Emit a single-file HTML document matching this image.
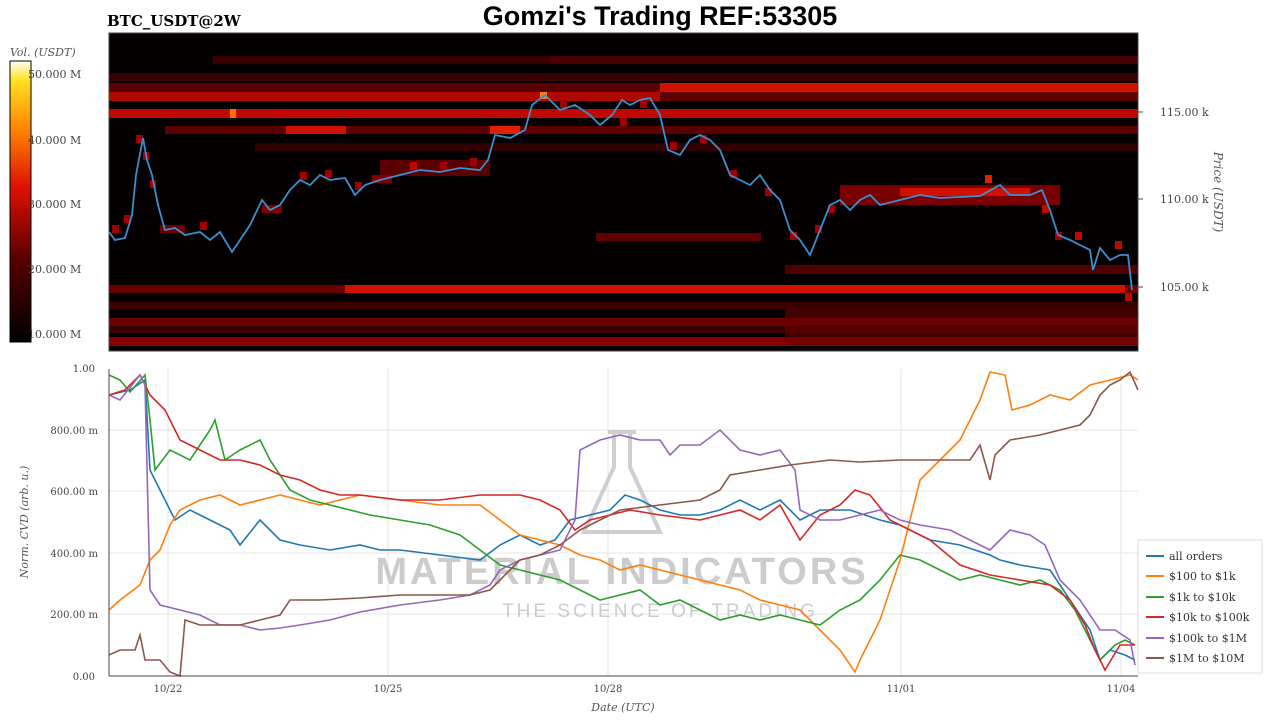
<!DOCTYPE html>
<html><head><meta charset="utf-8"><style>
body{margin:0;background:#fff;width:1280px;height:720px;overflow:hidden}
.s{font-family:"DejaVu Serif","Liberation Serif",serif}
.wm{font-family:"Liberation Sans",sans-serif;font-weight:bold}
</style></head><body>
<svg width="1280" height="720" viewBox="0 0 1280 720" xmlns="http://www.w3.org/2000/svg">
<defs>
<linearGradient id="cb" x1="0" y1="1" x2="0" y2="0">
<stop offset="0" stop-color="#000"/><stop offset="0.3" stop-color="#5a0000"/><stop offset="0.55" stop-color="#e01000"/><stop offset="0.75" stop-color="#ff8000"/><stop offset="0.93" stop-color="#ffe020"/><stop offset="1" stop-color="#fffff0"/>
</linearGradient>
</defs>
<text x="660" y="25" text-anchor="middle" font-size="27" font-weight="bold" style="font-family:'Liberation Sans',sans-serif">Gomzi's Trading REF:53305</text>
<text class="s" x="107" y="26" font-size="15" font-weight="bold">BTC_USDT@2W</text>
<text class="s" x="10" y="56" font-size="11" font-style="italic" fill="#555">Vol. (USDT)</text>
<rect x="10" y="61" width="21" height="281" fill="url(#cb)" stroke="#000" stroke-width="1"/>
<g class="s" font-size="11" fill="#444">
<text x="28" y="78">50.000 M</text><text x="28" y="144">40.000 M</text><text x="28" y="208">30.000 M</text><text x="28" y="273">20.000 M</text><text x="28" y="338">10.000 M</text></g>
<rect x="109" y="33" width="1029" height="318" fill="#050000"/>
<g>
<rect x="213" y="56" width="925" height="8" fill="#3a0000"/>
<rect x="550" y="56" width="588" height="8" fill="#4a0000"/>
<rect x="109" y="73" width="1029" height="8" fill="#3a0000"/>
<rect x="109" y="83" width="1029" height="9" fill="#5a0000"/>
<rect x="660" y="83" width="478" height="9" fill="#d01000"/>
<rect x="109" y="92" width="551" height="9" fill="#b00800"/>
<rect x="660" y="92" width="478" height="9" fill="#600000"/>
<rect x="109" y="109" width="1029" height="9" fill="#c00800"/>
<rect x="230" y="109" width="6" height="9" fill="#ff7000"/>
<rect x="540" y="92" width="7" height="7" fill="#ff8000"/>
<rect x="165" y="126" width="973" height="8" fill="#5a0000"/>
<rect x="286" y="126" width="60" height="8" fill="#d01000"/>
<rect x="490" y="126" width="30" height="8" fill="#e02000"/>
<rect x="255" y="143" width="883" height="8" fill="#300000"/>
<rect x="380" y="160" width="110" height="16" fill="#5a0000"/>
<rect x="840" y="185" width="220" height="20" fill="#7a0000"/>
<rect x="900" y="188" width="130" height="8" fill="#d01000"/>
<rect x="596" y="233" width="165" height="8" fill="#600000"/>
<rect x="785" y="265" width="353" height="9" fill="#500000"/>
<rect x="109" y="285" width="1029" height="8" fill="#6a0000"/>
<rect x="345" y="285" width="780" height="8" fill="#d01000"/>
<rect x="109" y="302" width="1029" height="8" fill="#3a0000"/>
<rect x="109" y="318" width="1029" height="8" fill="#6a0000"/>
<rect x="109" y="326" width="1029" height="7" fill="#3a0000"/>
<rect x="109" y="337" width="1029" height="9" fill="#8a0000"/>
<rect x="785" y="310" width="353" height="36" fill="#6a0000" opacity="0.6"/>
</g>
<g fill="#a00000">
<rect x="112" y="225" width="7" height="8"/><rect x="124" y="215" width="7" height="8"/><rect x="136" y="135" width="7" height="8"/><rect x="143" y="152" width="6" height="8"/><rect x="150" y="180" width="6" height="8"/><rect x="160" y="225" width="25" height="8" fill="#700000"/><rect x="200" y="222" width="7" height="8"/><rect x="262" y="205" width="20" height="8" fill="#800000"/><rect x="300" y="172" width="7" height="8"/><rect x="325" y="170" width="7" height="8"/><rect x="355" y="182" width="7" height="8"/><rect x="372" y="175" width="20" height="8" fill="#800000"/><rect x="410" y="162" width="7" height="8" fill="#c00800"/><rect x="440" y="162" width="7" height="8"/><rect x="470" y="158" width="7" height="8"/><rect x="500" y="126" width="7" height="8" fill="#e02000"/><rect x="512" y="126" width="7" height="8" fill="#e02000"/><rect x="560" y="100" width="7" height="8"/><rect x="620" y="118" width="7" height="8"/><rect x="640" y="100" width="7" height="8"/><rect x="670" y="142" width="7" height="8"/><rect x="700" y="135" width="7" height="8"/><rect x="730" y="170" width="7" height="8"/><rect x="765" y="188" width="7" height="8"/><rect x="790" y="232" width="7" height="8"/><rect x="815" y="225" width="7" height="8"/><rect x="828" y="205" width="7" height="8"/><rect x="985" y="175" width="7" height="8" fill="#e02000"/><rect x="1042" y="205" width="7" height="8" fill="#c00800"/><rect x="1055" y="232" width="7" height="8"/><rect x="1075" y="232" width="7" height="8" fill="#c00800"/><rect x="1115" y="241" width="7" height="8" fill="#c00800"/><rect x="1125" y="293" width="7" height="8" fill="#c00800"/>
</g>
<rect x="109" y="33" width="1029" height="318" fill="none" stroke="#444"/>
<polyline fill="none" stroke="#3a8fd0" stroke-width="1.8" points="109,232 115,240 125,238 132,215 136,175 143,138 147,160 152,175 158,205 165,230 175,228 185,235 200,232 210,240 220,232 232,252 240,240 250,225 262,200 270,210 280,205 290,190 300,180 310,185 320,175 330,180 345,178 355,195 365,185 380,180 400,175 420,170 440,172 460,168 480,170 488,160 495,135 510,138 525,130 532,105 545,95 560,110 575,105 590,115 600,125 612,115 622,100 630,105 640,100 650,98 660,115 668,150 680,155 690,140 700,135 710,140 720,150 730,175 740,180 750,185 760,175 770,190 780,200 790,230 800,240 810,255 820,230 830,205 840,200 850,210 860,200 870,195 880,205 900,200 920,195 940,198 960,197 980,196 1000,185 1010,195 1030,195 1042,190 1050,210 1058,235 1070,240 1080,245 1090,250 1093,270 1100,248 1110,260 1120,255 1128,255 1132,290"/>
<g stroke="#444"><line x1="1138" y1="112" x2="1143" y2="112"/><line x1="1138" y1="199" x2="1143" y2="199"/><line x1="1138" y1="287" x2="1143" y2="287"/></g>
<g class="s" font-size="11" fill="#444"><text x="1160" y="116">115.00 k</text><text x="1160" y="203">110.00 k</text><text x="1160" y="291">105.00 k</text></g>
<text class="s" transform="translate(1214,192) rotate(90)" text-anchor="middle" font-size="12" font-style="italic" fill="#555">Price (USDT)</text>
<g stroke="#e6e6e6"><line x1="109" y1="614" x2="1138" y2="614"/><line x1="109" y1="553" x2="1138" y2="553"/><line x1="109" y1="491" x2="1138" y2="491"/><line x1="109" y1="430" x2="1138" y2="430"/><line x1="168" y1="369" x2="168" y2="676"/><line x1="388" y1="369" x2="388" y2="676"/><line x1="608" y1="369" x2="608" y2="676"/><line x1="901" y1="369" x2="901" y2="676"/><line x1="1121" y1="369" x2="1121" y2="676"/></g>
<g fill="#bbb" opacity="0.75">
<text class="wm" x="622" y="584" text-anchor="middle" font-size="38" letter-spacing="3">MATERIAL INDICATORS</text>
<text class="wm" x="660" y="617" text-anchor="middle" font-size="19" letter-spacing="3" style="font-weight:normal">THE SCIENCE OF TRADING</text></g>
<path d="M608,432 h28 M614,432 v35 l-30,65 h76 l-30,-65 v-35" fill="none" stroke="#bbb" stroke-width="4" opacity="0.7"/>
<g fill="none" stroke-width="1.6">
<polyline stroke="#1f77b4" points="109,395 130,390 145,380 150,470 165,500 175,520 190,510 210,520 230,530 240,545 260,520 280,540 300,545 330,550 360,545 380,550 400,550 440,555 480,560 500,545 520,535 540,545 555,540 570,520 590,515 610,510 625,495 640,500 660,510 680,515 700,515 720,510 740,500 760,510 780,500 800,520 820,510 850,510 880,520 900,525 930,540 960,545 990,555 1000,560 1020,565 1050,570 1070,600 1090,630 1100,660 1110,650 1125,655 1135,660"/>
<polyline stroke="#ff7f0e" points="109,610 120,600 140,585 150,560 160,550 170,525 180,510 200,500 220,495 240,505 260,500 280,495 300,500 320,505 340,500 360,495 400,500 440,505 480,505 500,520 520,535 540,540 560,545 580,555 600,560 620,570 640,565 660,570 700,580 740,590 760,600 780,605 800,610 820,630 840,650 855,672 860,660 870,640 880,620 900,560 920,480 940,460 960,440 980,400 990,372 1005,375 1012,410 1030,405 1050,395 1070,400 1090,385 1110,380 1130,375 1138,380"/>
<polyline stroke="#2ca02c" points="109,375 120,380 130,392 145,375 150,420 155,470 170,450 190,460 210,430 215,420 225,460 240,450 260,440 270,460 290,490 310,500 330,505 350,510 370,515 400,520 430,525 460,535 480,550 500,565 520,570 540,575 560,580 580,590 600,600 620,595 640,590 660,605 680,600 700,610 720,620 740,615 760,620 780,615 800,620 820,625 840,610 860,600 880,580 900,555 920,560 940,570 960,580 980,575 1000,580 1020,585 1040,580 1060,590 1075,610 1090,640 1100,660 1115,645 1125,640 1135,645"/>
<polyline stroke="#d62728" points="109,395 125,390 140,375 150,395 165,410 180,440 200,450 220,460 240,460 260,465 280,475 300,480 320,490 340,495 360,495 400,500 440,500 480,495 520,495 540,500 560,510 575,530 590,520 610,515 630,510 660,515 700,520 720,515 740,510 760,520 780,505 800,540 820,515 840,505 855,490 870,495 890,520 910,530 930,540 960,565 990,575 1020,580 1050,585 1070,600 1085,625 1095,650 1105,670 1120,645 1135,645"/>
<polyline stroke="#9467bd" points="109,395 120,400 140,375 145,385 150,590 160,605 180,610 200,615 220,625 240,625 260,630 280,628 300,625 330,620 360,612 400,605 440,600 470,595 490,585 500,570 520,560 540,555 560,550 575,520 580,450 600,440 620,435 640,440 660,440 670,455 680,445 700,445 720,430 740,450 760,455 780,450 795,470 800,510 820,520 840,520 860,515 880,510 900,520 920,525 950,530 980,545 990,550 1010,530 1030,535 1045,545 1060,580 1080,600 1100,630 1115,630 1130,640 1135,665"/>
<polyline stroke="#8c564b" points="109,655 120,650 135,650 140,635 145,660 160,660 170,672 180,676 185,620 200,625 240,625 260,620 280,615 290,600 320,600 360,598 400,595 440,595 470,595 490,590 500,580 520,560 540,555 560,545 580,530 600,520 620,510 660,505 700,500 720,490 730,475 760,470 790,465 830,460 860,462 900,460 940,460 970,460 980,445 990,480 995,455 1010,440 1040,435 1060,430 1080,425 1090,415 1100,395 1110,385 1120,380 1130,372 1138,390"/>
</g>
<line x1="109" y1="369" x2="109" y2="676" stroke="#444"/><line x1="109" y1="676" x2="1138" y2="676" stroke="#444"/>
<g class="s" font-size="10" fill="#444" text-anchor="end"><text x="95" y="372">1.00</text><text x="98" y="434">800.00 m</text><text x="98" y="495">600.00 m</text><text x="98" y="557">400.00 m</text><text x="98" y="618">200.00 m</text><text x="95" y="680">0.00</text></g>
<g class="s" font-size="10" fill="#444" text-anchor="middle"><text x="168" y="692">10/22</text><text x="388" y="692">10/25</text><text x="608" y="692">10/28</text><text x="901" y="692">11/01</text><text x="1121" y="692">11/04</text></g>
<text class="s" x="623" y="711" text-anchor="middle" font-size="11" font-style="italic" fill="#555">Date (UTC)</text>
<text class="s" transform="translate(28,522) rotate(-90)" text-anchor="middle" font-size="11" font-style="italic" fill="#555">Norm. CVD (arb. u.)</text>
<rect x="1138" y="540" width="124" height="133" fill="#fff" stroke="#ddd"/>
<g stroke-width="2"><line x1="1146" y1="556" x2="1164" y2="556" stroke="#1f77b4"/><line x1="1146" y1="576" x2="1164" y2="576" stroke="#ff7f0e"/><line x1="1146" y1="597" x2="1164" y2="597" stroke="#2ca02c"/><line x1="1146" y1="617" x2="1164" y2="617" stroke="#d62728"/><line x1="1146" y1="638" x2="1164" y2="638" stroke="#9467bd"/><line x1="1146" y1="658" x2="1164" y2="658" stroke="#8c564b"/></g>
<g class="s" font-size="11" fill="#333"><text x="1169" y="560">all orders</text><text x="1169" y="580">$100 to $1k</text><text x="1169" y="601">$1k to $10k</text><text x="1169" y="621">$10k to $100k</text><text x="1169" y="642">$100k to $1M</text><text x="1169" y="662">$1M to $10M</text></g>
</svg>
</body></html>
